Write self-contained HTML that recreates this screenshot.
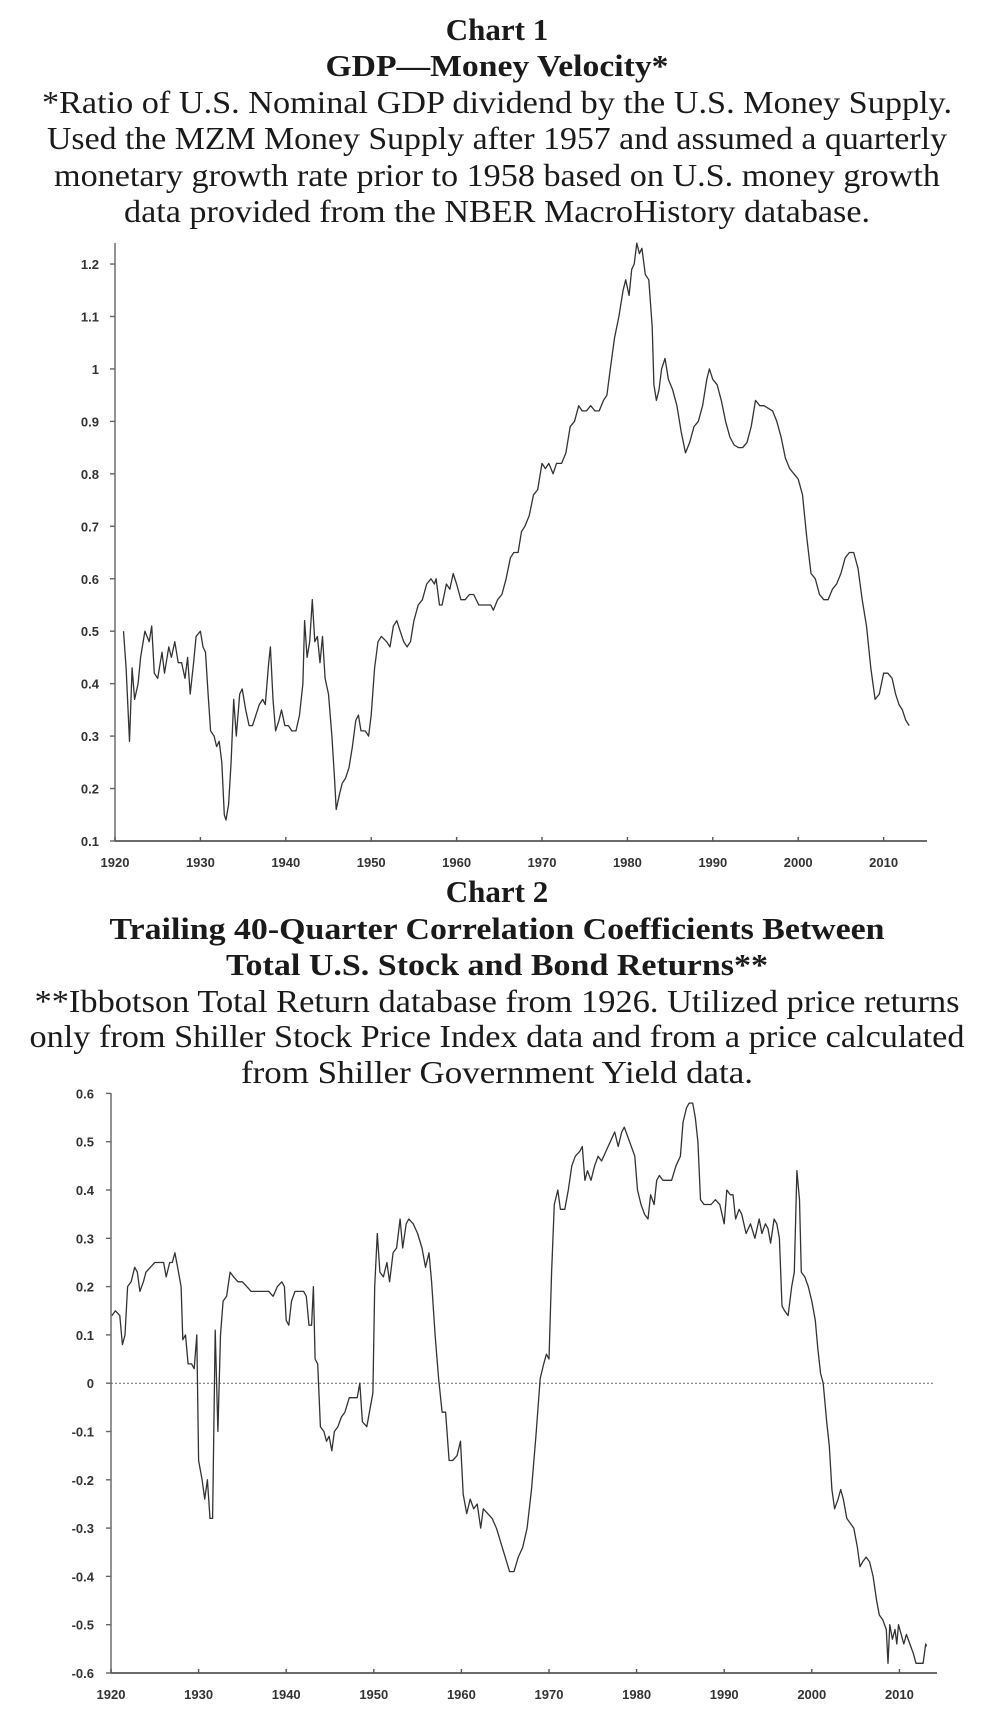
<!DOCTYPE html>
<html><head><meta charset="utf-8"><style>
html,body{margin:0;padding:0;background:#fff;}
svg{display:block;}
.t{font-family:"Liberation Serif",serif;fill:#1a1a1a;}
.tick{font-family:"Liberation Sans",sans-serif;font-weight:bold;font-size:13px;fill:#333;}
</style></head><body>
<svg id="page" width="994" height="1718" viewBox="0 0 994 1718" xmlns="http://www.w3.org/2000/svg">
<g>
<text class="t" x="497" y="40" font-size="31" font-weight="bold" text-anchor="middle">Chart 1</text>
<text class="t" x="497" y="76" font-size="31" font-weight="bold" text-anchor="middle" textLength="343" lengthAdjust="spacingAndGlyphs">GDP—Money Velocity*</text>
<text class="t" x="497" y="113" font-size="32" text-anchor="middle" textLength="910" lengthAdjust="spacingAndGlyphs">*Ratio of U.S. Nominal GDP dividend by the U.S. Money Supply.</text>
<text class="t" x="497" y="149" font-size="32" text-anchor="middle" textLength="900" lengthAdjust="spacingAndGlyphs">Used the MZM Money Supply after 1957 and assumed a quarterly</text>
<text class="t" x="497" y="186" font-size="32" text-anchor="middle" textLength="886" lengthAdjust="spacingAndGlyphs">monetary growth rate prior to 1958 based on U.S. money growth</text>
<text class="t" x="497" y="222" font-size="32" text-anchor="middle" textLength="746" lengthAdjust="spacingAndGlyphs">data provided from the NBER MacroHistory database.</text>
</g>
<g>
<text class="t" x="497" y="902" font-size="31" font-weight="bold" text-anchor="middle">Chart 2</text>
<text class="t" x="497" y="939" font-size="31" font-weight="bold" text-anchor="middle" textLength="775" lengthAdjust="spacingAndGlyphs">Trailing 40-Quarter Correlation Coefficients Between</text>
<text class="t" x="497" y="975" font-size="31" font-weight="bold" text-anchor="middle" textLength="542" lengthAdjust="spacingAndGlyphs">Total U.S. Stock and Bond Returns**</text>
<text class="t" x="497" y="1012" font-size="32" text-anchor="middle" textLength="925" lengthAdjust="spacingAndGlyphs">**Ibbotson Total Return database from 1926. Utilized price returns</text>
<text class="t" x="497" y="1047" font-size="32" text-anchor="middle" textLength="935" lengthAdjust="spacingAndGlyphs">only from Shiller Stock Price Index data and from a price calculated</text>
<text class="t" x="497" y="1083" font-size="32" text-anchor="middle" textLength="512" lengthAdjust="spacingAndGlyphs">from Shiller Government Yield data.</text>
</g>
<g id="c1"></g>
<g id="c2"></g>
</svg>
<script>
const years = [1920,1930,1940,1950,1960,1970,1980,1990,2000,2010];
const c1Ticks = [0.1,0.2,0.3,0.4,0.5,0.6,0.7,0.8,0.9,1,1.1,1.2];
const c1TickLabels = ["0.1","0.2","0.3","0.4","0.5","0.6","0.7","0.8","0.9","1","1.1","1.2"];
const c2Ticks = [-0.6,-0.5,-0.4,-0.3,-0.2,-0.1,0,0.1,0.2,0.3,0.4,0.5,0.6];
const c2TickLabels = ["-0.6","-0.5","-0.4","-0.3","-0.2","-0.1","0","0.1","0.2","0.3","0.4","0.5","0.6"];
const velYears = [1921.0,1921.3,1921.7,1922,1922.3,1922.7,1923,1923.5,1924,1924.3,1924.6,1925,1925.5,1925.8,1926.3,1926.6,1927,1927.4,1927.8,1928.2,1928.5,1928.8,1929.2,1929.5,1930,1930.3,1930.6,1930.9,1931.2,1931.6,1931.9,1932.2,1932.5,1932.8,1933.0,1933.3,1933.6,1933.9,1934.2,1934.6,1934.9,1935.3,1935.7,1936.1,1936.5,1936.9,1937.3,1937.6,1938,1938.2,1938.5,1938.8,1939.2,1939.5,1939.9,1940.3,1940.7,1941.2,1941.6,1942,1942.2,1942.5,1942.8,1943.1,1943.4,1943.7,1944,1944.3,1944.6,1945,1945.4,1945.7,1945.9,1946.3,1946.6,1947,1947.4,1947.8,1948.2,1948.5,1948.8,1949.3,1949.7,1950,1950.4,1950.8,1951.2,1951.8,1952.2,1952.6,1953,1953.4,1953.8,1954.2,1954.6,1955,1955.5,1956,1956.5,1957,1957.4,1957.6,1958,1958.3,1958.8,1959.2,1959.6,1960,1960.5,1961,1961.5,1962,1962.6,1963,1963.5,1964,1964.3,1964.8,1965.3,1965.8,1966.3,1966.7,1967.2,1967.6,1968,1968.5,1969,1969.5,1970,1970.4,1970.8,1971.3,1971.7,1972.3,1972.8,1973.3,1973.8,1974.3,1974.7,1975.2,1975.7,1976.2,1976.7,1977.2,1977.6,1978,1978.5,1979,1979.5,1979.8,1980.2,1980.5,1980.8,1981.1,1981.4,1981.7,1982.1,1982.5,1982.9,1983.1,1983.4,1983.7,1984,1984.4,1984.8,1985.3,1985.8,1986.3,1986.8,1987.3,1987.8,1988.3,1988.8,1989.3,1989.6,1990,1990.5,1991,1991.5,1992,1992.5,1993,1993.5,1994,1994.5,1995,1995.5,1996,1996.5,1997,1997.5,1998,1998.5,1999,1999.5,2000,2000.5,2001,2001.5,2002,2002.5,2003,2003.5,2004,2004.5,2005,2005.5,2006,2006.5,2007,2007.5,2008,2008.5,2009,2009.5,2010,2010.5,2011,2011.4,2011.8,2012.2,2012.6,2013];
const velValues = [0.50,0.43,0.29,0.43,0.37,0.40,0.45,0.50,0.48,0.51,0.42,0.41,0.46,0.42,0.47,0.45,0.48,0.44,0.44,0.41,0.45,0.38,0.44,0.49,0.50,0.47,0.46,0.38,0.31,0.30,0.28,0.29,0.25,0.15,0.14,0.17,0.25,0.37,0.30,0.38,0.39,0.35,0.32,0.32,0.34,0.36,0.37,0.36,0.44,0.47,0.37,0.31,0.33,0.35,0.32,0.32,0.31,0.31,0.34,0.40,0.52,0.45,0.48,0.56,0.48,0.49,0.44,0.49,0.41,0.38,0.30,0.22,0.16,0.19,0.21,0.22,0.24,0.28,0.33,0.34,0.31,0.31,0.30,0.34,0.43,0.48,0.49,0.48,0.47,0.51,0.52,0.50,0.48,0.47,0.48,0.52,0.55,0.56,0.59,0.60,0.59,0.60,0.55,0.55,0.59,0.58,0.61,0.59,0.56,0.56,0.57,0.57,0.55,0.55,0.55,0.55,0.54,0.56,0.57,0.60,0.64,0.65,0.65,0.69,0.70,0.72,0.76,0.77,0.82,0.81,0.82,0.80,0.82,0.82,0.84,0.89,0.90,0.93,0.92,0.92,0.93,0.92,0.92,0.94,0.95,1.00,1.06,1.10,1.15,1.17,1.14,1.19,1.20,1.24,1.22,1.23,1.18,1.17,1.08,0.97,0.94,0.96,1.00,1.02,0.98,0.96,0.93,0.88,0.84,0.86,0.89,0.90,0.93,0.98,1.00,0.98,0.97,0.94,0.90,0.87,0.855,0.85,0.85,0.86,0.89,0.94,0.93,0.93,0.925,0.92,0.90,0.87,0.83,0.81,0.80,0.79,0.76,0.68,0.61,0.60,0.57,0.56,0.56,0.58,0.59,0.61,0.64,0.65,0.65,0.62,0.56,0.51,0.43,0.37,0.38,0.42,0.42,0.41,0.38,0.36,0.35,0.33,0.32];
const corYears = [1920.1,1920.5,1921,1921.3,1921.6,1921.9,1922.3,1922.7,1923,1923.3,1923.7,1924,1924.5,1925,1925.5,1926,1926.3,1926.7,1927,1927.3,1927.7,1928,1928.2,1928.5,1928.8,1929.2,1929.5,1929.8,1930,1930.4,1930.7,1931,1931.3,1931.6,1931.9,1932.2,1932.5,1932.8,1933.2,1933.6,1934,1934.5,1935,1935.5,1936,1937,1938,1938.5,1939,1939.5,1939.8,1940,1940.3,1940.6,1941,1941.5,1942,1942.3,1942.6,1942.9,1943.1,1943.3,1943.6,1943.9,1944.3,1944.6,1944.9,1945.2,1945.5,1945.9,1946.3,1946.7,1947.2,1947.7,1948.1,1948.4,1948.7,1949.2,1949.6,1949.9,1950.1,1950.4,1950.7,1951.1,1951.5,1951.8,1952.2,1952.6,1953,1953.3,1953.7,1954,1954.5,1955,1955.5,1955.9,1956.3,1956.6,1957,1957.4,1957.8,1958.2,1958.6,1959,1959.5,1959.9,1960.2,1960.6,1961,1961.4,1961.8,1962.2,1962.5,1963,1963.5,1964,1964.5,1965,1965.5,1966,1966.5,1967,1967.5,1968,1968.5,1969,1969.4,1969.7,1970,1970.3,1970.6,1971,1971.3,1971.8,1972.2,1972.6,1973,1973.5,1973.8,1974.1,1974.4,1974.8,1975.2,1975.6,1976,1976.5,1977,1977.5,1977.9,1978.3,1978.6,1979,1979.4,1979.8,1980.1,1980.5,1980.9,1981.3,1981.6,1982,1982.3,1982.6,1983,1983.5,1984,1984.5,1985,1985.3,1985.7,1986,1986.4,1986.7,1987,1987.3,1987.7,1988,1988.5,1989,1989.5,1990,1990.3,1990.7,1991,1991.3,1991.7,1992,1992.5,1993,1993.5,1994,1994.3,1994.7,1995,1995.3,1995.7,1996,1996.3,1996.6,1996.9,1997.3,1997.7,1998,1998.3,1998.6,1998.8,1999.2,1999.6,2000,2000.4,2000.7,2001,2001.3,2001.7,2002,2002.3,2002.6,2003,2003.3,2003.6,2004,2004.4,2004.8,2005.2,2005.5,2005.8,2006.2,2006.6,2007,2007.4,2007.7,2008.1,2008.5,2008.7,2008.9,2009.2,2009.5,2009.7,2009.9,2010.2,2010.5,2010.8,2011.2,2011.6,2011.9,2012.3,2012.7,2013,2013.1];
const corValues = [0.14,0.15,0.14,0.08,0.10,0.20,0.21,0.24,0.23,0.19,0.21,0.23,0.24,0.25,0.25,0.25,0.22,0.25,0.25,0.27,0.23,0.20,0.09,0.10,0.04,0.04,0.03,0.10,-0.16,-0.20,-0.24,-0.20,-0.28,-0.28,0.11,-0.10,0.10,0.17,0.18,0.23,0.22,0.21,0.21,0.20,0.19,0.19,0.19,0.18,0.20,0.21,0.20,0.13,0.12,0.17,0.19,0.19,0.19,0.18,0.12,0.12,0.20,0.05,0.04,-0.09,-0.10,-0.12,-0.11,-0.14,-0.10,-0.09,-0.07,-0.06,-0.03,-0.03,-0.03,0.00,-0.08,-0.09,-0.05,-0.02,0.20,0.31,0.23,0.22,0.25,0.21,0.27,0.28,0.34,0.28,0.33,0.34,0.33,0.31,0.28,0.24,0.27,0.21,0.10,0.01,-0.06,-0.06,-0.16,-0.16,-0.15,-0.12,-0.23,-0.27,-0.24,-0.26,-0.25,-0.30,-0.26,-0.27,-0.28,-0.30,-0.33,-0.36,-0.39,-0.39,-0.36,-0.34,-0.30,-0.22,-0.11,0.01,0.04,0.06,0.05,0.23,0.37,0.40,0.36,0.36,0.40,0.45,0.47,0.48,0.49,0.42,0.44,0.42,0.45,0.47,0.46,0.48,0.50,0.52,0.49,0.52,0.53,0.51,0.49,0.47,0.40,0.37,0.35,0.34,0.39,0.37,0.42,0.43,0.42,0.42,0.42,0.45,0.47,0.54,0.57,0.58,0.58,0.55,0.50,0.38,0.37,0.37,0.37,0.38,0.37,0.33,0.40,0.39,0.39,0.34,0.36,0.35,0.31,0.33,0.30,0.34,0.31,0.33,0.32,0.29,0.34,0.33,0.30,0.16,0.15,0.14,0.20,0.23,0.44,0.38,0.23,0.22,0.20,0.17,0.13,0.07,0.02,0.00,-0.08,-0.13,-0.22,-0.26,-0.24,-0.22,-0.24,-0.28,-0.29,-0.30,-0.34,-0.38,-0.37,-0.36,-0.37,-0.40,-0.45,-0.48,-0.49,-0.51,-0.58,-0.50,-0.53,-0.51,-0.54,-0.50,-0.52,-0.54,-0.52,-0.54,-0.56,-0.58,-0.58,-0.58,-0.54,-0.545];

const NS = "http://www.w3.org/2000/svg";
function mk(parent, tag, attrs){ const e=document.createElementNS(NS,tag); for(const k in attrs) e.setAttribute(k,attrs[k]); parent.appendChild(e); return e; }

function drawChart(g, cfg, xs, vs, ticks, labels, prefix){
  const x = yr => cfg.x0 + (yr-1920)*cfg.dx;
  const y = v => cfg.yBase - (v-cfg.vMin)*cfg.dy;
  const yAxis = mk(g,'line',{x1:cfg.x0,y1:cfg.yTop,x2:cfg.x0,y2:cfg.yBase,stroke:'#777','stroke-width':1.6});
  
  
  const xAxis = mk(g,'line',{x1:cfg.x0,y1:cfg.yBase,x2:cfg.xEnd,y2:cfg.yBase,stroke:'#555','stroke-width':1.8});
  
  
  ticks.forEach((t,i)=>{
    const yy=y(t);
    const tk=mk(g,'line',{x1:cfg.x0-5,y1:yy,x2:cfg.x0,y2:yy,stroke:'#666','stroke-width':1.4});
    
    
    const tx=mk(g,'text',{x:cfg.labRight,y:yy+5,'text-anchor':'end','class':'tick'});
    tx.textContent=labels[i];
    
    
  });
  years.forEach(yr=>{
    const xx=x(yr);
    const tk=mk(g,'line',{x1:xx,y1:cfg.yBase,x2:xx,y2:cfg.yBase-4,stroke:'#555','stroke-width':1.4});
    
    
    const tx=mk(g,'text',{x:xx,y:cfg.yBase+cfg.labOff,'text-anchor':'middle','class':'tick'});
    tx.textContent=String(yr);
    
    
  });
  if(cfg.zero){
    const z=mk(g,'line',{x1:cfg.x0,y1:y(0),x2:cfg.zeroEnd,y2:y(0),stroke:'#666','stroke-width':1,'stroke-dasharray':'2,2'});
    
    
  }
  const d = xs.map((yr,i)=>(i?'L':'M')+x(yr).toFixed(1)+','+y(vs[i]).toFixed(1)).join(' ');
  const p=mk(g,'path',{d:d,fill:'none',stroke:'#333','stroke-width':1.3,'stroke-linejoin':'round'});
  
  
}
drawChart(document.getElementById('c1'),{x0:115,dx:8.54,xEnd:927,yTop:243,yBase:841,vMin:0.1,dy:524.5,labRight:99,labOff:26},velYears,velValues,c1Ticks,c1TickLabels,'velocity');
drawChart(document.getElementById('c2'),{x0:111,dx:8.76,xEnd:937,yTop:1093,yBase:1673,vMin:-0.6,dy:483,labRight:94,labOff:26,zero:true,zeroEnd:934},corYears,corValues,c2Ticks,c2TickLabels,'correlation');
</script>
</body></html>
